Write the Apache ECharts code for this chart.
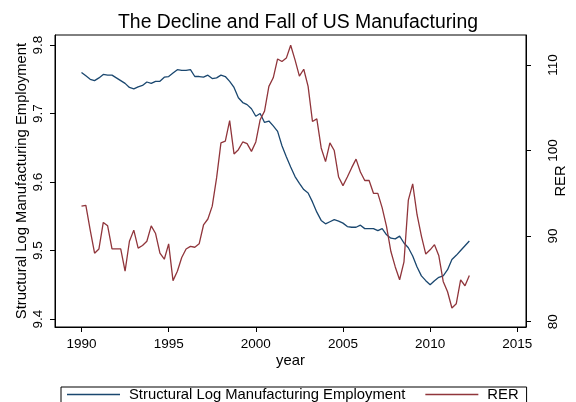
<!DOCTYPE html>
<html>
<head>
<meta charset="utf-8">
<script src="https://cdn.jsdelivr.net/npm/echarts@6/dist/echarts.min.js"></script>
<style>
  html, body { margin: 0; padding: 0; background: #fff; }
  #main { width: 576px; height: 402px; }
</style>
</head>
<body>
<div id="main"></div>
<script>
// quarterly data, 1990q1 - 2012q2
var startYear = 1990
var nQuarters = 90

// structural log manufacturing employment (left axis)
var employment = [
  9.760, 9.755, 9.750, 9.748, 9.752, 9.757, 9.756, 9.756, 9.752, 9.748,
  9.744, 9.738, 9.736, 9.739, 9.741, 9.746, 9.744, 9.747, 9.747, 9.753,
  9.754, 9.759, 9.764, 9.763, 9.763, 9.764, 9.754, 9.754, 9.753, 9.756,
  9.751, 9.752, 9.756, 9.754, 9.747, 9.738, 9.723, 9.716, 9.713, 9.707,
  9.696, 9.700, 9.687, 9.689, 9.682, 9.674, 9.653, 9.637, 9.622, 9.608,
  9.598, 9.589, 9.584, 9.571, 9.556, 9.544, 9.539, 9.542, 9.545, 9.543,
  9.540, 9.535, 9.534, 9.534, 9.537, 9.532, 9.532, 9.532, 9.529, 9.532,
  9.523, 9.518, 9.517, 9.521, 9.511, 9.504, 9.492, 9.476, 9.463, 9.456,
  9.450, 9.456, 9.461, 9.463, 9.472, 9.487, 9.493, 9.500, 9.507, 9.514
]

// real exchange rate (right axis)
var rer = [
  93.5, 93.6, 90.7, 88.0, 88.5, 91.6, 91.2, 88.5, 88.5, 88.5,
  85.9, 89.4, 90.7, 88.6, 88.9, 89.4, 91.2, 90.3, 88.0, 87.3,
  89.1, 84.8, 85.9, 87.5, 88.5, 88.8, 88.7, 89.1, 91.3, 92.0,
  93.5, 96.8, 100.9, 101.1, 103.5, 99.6, 100.1, 101.0, 100.8, 99.9,
  101.0, 103.6, 104.6, 107.5, 108.5, 110.7, 110.4, 110.8, 112.3, 110.6,
  108.7, 109.5, 107.5, 103.4, 103.7, 100.3, 98.7, 100.9, 100.0, 96.9,
  95.9, 96.9, 98.0, 99.0, 97.5, 96.5, 96.5, 95.0, 95.0, 93.3,
  91.1, 88.2, 86.4, 84.9, 87.0, 94.2, 96.1, 92.5, 90.0, 87.9,
  88.4, 89.0, 87.7, 84.7, 83.5, 81.6, 82.1, 84.9, 84.2, 85.4
]

var yearTicks = [1990, 1995, 2000, 2005, 2010, 2015]
var empTicks = [9.4, 9.5, 9.6, 9.7, 9.8]
var rerTicks = [80, 90, 100, 110]

var quarters = []
for (var i = 0; i < nQuarters; i++) quarters.push(startYear + i / 4)

function pairs(vals) {
  return vals.map(function (v, i) { return [quarters[i], v] })
}

var font = 'Liberation Sans, Arial, Helvetica, sans-serif'
var black = '#000'
var navy = '#1a476f'
var maroon = '#90353b'

var chart = echarts.init(document.getElementById('main'), null, { renderer: 'canvas' })

chart.setOption({
  backgroundColor: '#fff',
  animation: false,
  textStyle: { fontFamily: font, color: black },
  title: {
    text: 'The Decline and Fall of US Manufacturing',
    left: 293,
    top: 8,
    textAlign: 'center',
    textStyle: { fontFamily: font, fontSize: 19.4, fontWeight: 'normal', color: black }
  },
  grid: {
    left: 55, right: 44, top: 35, bottom: 75,
    show: true, borderColor: black, borderWidth: 1, backgroundColor: '#fff'
  },
  legend: {
    left: 61,
    top: 387,
    padding: [0, 8, 12, 6],
    itemGap: 20,
    itemWidth: 53,
    itemHeight: 1.4,
    icon: 'rect',
    borderColor: black,
    borderWidth: 1,
    borderRadius: 0,
    textStyle: { fontFamily: font, fontSize: 14.8, lineHeight: 11, color: black, padding: [0, 0, 0, 4] },
    data: [
      { name: 'Structural Log Manufacturing Employment', itemStyle: { color: navy } },
      { name: 'RER', itemStyle: { color: maroon } }
    ]
  },
  xAxis: {
    type: 'value',
    min: 1988.48,
    max: 2015.5,
    name: 'year',
    nameLocation: 'middle',
    nameGap: 26,
    nameMoveOverlap: false,
    nameTextStyle: { fontFamily: font, fontSize: 14.8, color: black },
    splitLine: { show: false },
    axisLine: { lineStyle: { color: black, width: 1 } },
    axisTick: { show: true, length: 5, inside: false, lineStyle: { color: black }, customValues: yearTicks },
    axisLabel: {
      fontFamily: font, fontSize: 13.5, color: black, margin: 10,
      customValues: yearTicks,
      formatter: function (v) { return String(v) }
    }
  },
  yAxis: [
    {
      type: 'value',
      position: 'left',
      min: 9.3884,
      max: 9.8146,
      name: 'Structural Log Manufacturing Employment',
      nameLocation: 'middle',
      nameRotate: 90,
      nameGap: 26,
      nameMoveOverlap: false,
      nameTextStyle: { fontFamily: font, fontSize: 14.8, color: black },
      splitLine: { show: false },
      axisLine: { show: true, lineStyle: { color: black, width: 1 } },
      axisTick: { show: true, length: 5, lineStyle: { color: black }, customValues: empTicks },
      axisLabel: {
        fontFamily: font, fontSize: 13.5, color: black, rotate: 90, margin: 10,
        customValues: empTicks,
        formatter: function (v) { return v.toFixed(1) }
      }
    },
    {
      type: 'value',
      position: 'right',
      min: 79.38,
      max: 113.5,
      name: 'RER',
      nameLocation: 'middle',
      nameRotate: 90,
      nameGap: 27,
      nameMoveOverlap: false,
      nameTextStyle: { fontFamily: font, fontSize: 14.8, color: black },
      splitLine: { show: false },
      axisLine: { show: true, lineStyle: { color: black, width: 1 } },
      axisTick: { show: true, length: 5, lineStyle: { color: black }, customValues: rerTicks },
      axisLabel: {
        fontFamily: font, fontSize: 13.5, color: black, rotate: 90, margin: 20,
        customValues: rerTicks
      }
    }
  ],
  series: [
    {
      name: 'Structural Log Manufacturing Employment',
      type: 'line',
      yAxisIndex: 0,
      data: pairs(employment),
      symbol: 'none',
      lineStyle: { color: navy, width: 1.3 },
      itemStyle: { color: navy }
    },
    {
      name: 'RER',
      type: 'line',
      yAxisIndex: 1,
      data: pairs(rer),
      symbol: 'none',
      lineStyle: { color: maroon, width: 1.3 },
      itemStyle: { color: maroon }
    }
  ]
})
</script>
</body>
</html>
